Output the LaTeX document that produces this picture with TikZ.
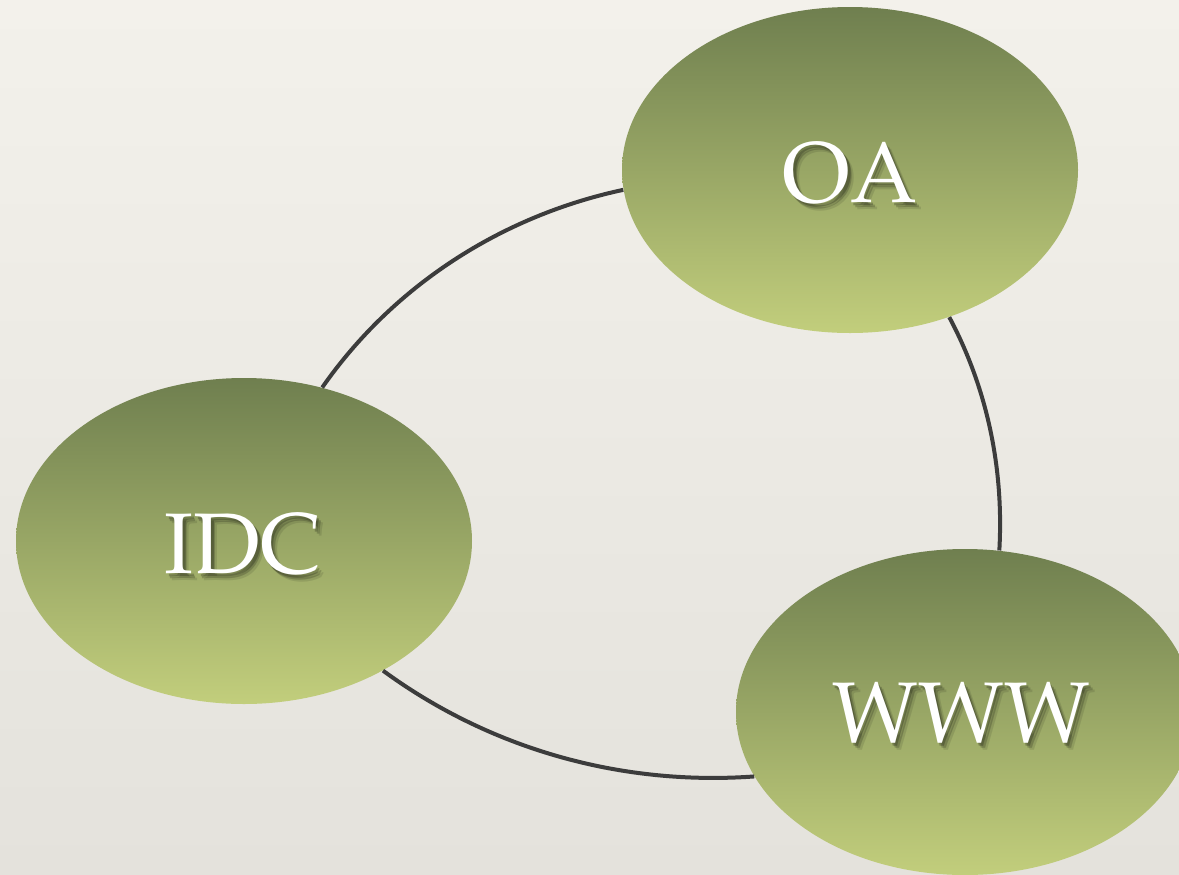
\documentclass[tikz,border=0pt]{standalone}
\usepackage[T1]{fontenc}
\usepackage{mathpazo}
\usetikzlibrary{shapes.geometric}
\definecolor{gtop}{HTML}{6F7F4F}
\definecolor{gbot}{HTML}{C2CE7C}
\definecolor{bgtop}{HTML}{F3F1EB}
\definecolor{bgbot}{HTML}{E4E2DC}
\definecolor{arcc}{HTML}{3C3C3C}
\newcommand\shlayer[4]{\makebox[0pt][l]{\pgfsetfillopacity{#3}\hspace{#1}\raisebox{#2}{\color{black}#4}}}
\newcommand\shtxt[1]{%
  \shlayer{3pt}{-3.5pt}{0.10}{#1}%
  \shlayer{2pt}{-2.5pt}{0.18}{#1}%
  \shlayer{1.2pt}{-1.5pt}{0.22}{#1}%
  \pgfsetfillopacity{1}#1}
\tikzset{
  bubble/.style={ellipse, draw=none, inner sep=0pt, top color=gtop, bottom color=gbot,
    minimum width=228pt, minimum height=163pt},
  lbl/.style={anchor=base, text=white, font=\fontsize{43}{50}\selectfont, inner sep=0pt},
  link/.style={draw=arcc, line width=2pt},
}
\begin{document}
\begin{tikzpicture}[x=0.5pt,y=-0.5pt]
\path[use as bounding box, top color=bgtop, bottom color=bgbot] (0,0) rectangle (1179,874);
\clip (0,0) rectangle (1179,874);
% nodes
\node[bubble] (oa) at (850,170) {};
\node[bubble] (idc) at (244,541) {};
\node[bubble, minimum width=229pt] (www) at (965,712) {};
% connectors
\draw[link] (oa.185) .. controls (501,216) and (393,286) .. (idc.63);
\draw[link] (idc.-43) .. controls (490,749) and (621,786) .. (www.197);
\draw[link] (oa.-56) .. controls (987,388) and (1004,468) .. (www.78);
% labels with soft shadow
\node[lbl] (oat) at (850,202) {\shtxt{OA}};
\node[lbl] (idct) at (243,573) {\shtxt{IDC}};
\node[lbl] (wwwt) at (961,742) {\shtxt{WWW}};
\end{tikzpicture}
\end{document}
